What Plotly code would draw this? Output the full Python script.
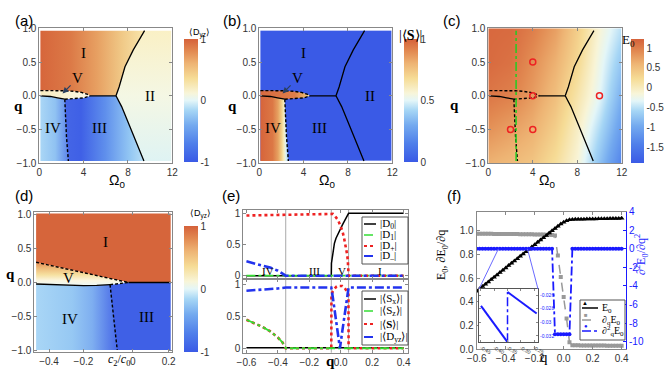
import plotly.graph_objects as go

W, H = 664, 380
SANS = "Liberation Sans"
SERIF = "Liberation Serif"

# ---------- panels (a)-(c): phase boundaries in the (Omega_0, q) plane
om_I_II = [6.92, 7.2, 7.73, 8.48, 9.5]
q_I_II = [0.0, 0.13, 0.43, 0.68, 0.965]
om_III_II = [6.92, 7.43, 8.18, 9.44]
q_III_II = [0.0, -0.16, -0.46, -0.965]
om_I_III = [4.6, 6.92]
q_I_III = [0.0, 0.0]
om_IV_V = [0.1, 1.0, 1.65, 2.1, 2.3]
q_IV_V = [0.0, -0.01, -0.03, -0.05, -0.05]
om_V_up = [0.1, 1.5, 2.4, 3.2, 3.8, 4.3, 4.6]
q_V_up = [0.077, 0.077, 0.075, 0.065, 0.05, 0.025, 0.0]
om_V_low = [2.3, 3.15, 4.05, 4.6]
q_V_low = [-0.05, -0.045, -0.03, 0.0]
om_IV_III = [2.3, 2.35, 2.45, 2.62]
q_IV_III = [-0.05, -0.3, -0.6, -0.965]
om_edge = [0.1, 11.9]
q_edge = [-0.965, 0.965]

# panel (c): ground state energy E0 on a coarse grid
om_c = [0.1, 2, 4, 6, 8, 10, 11.9]
q_c = [-0.965, -0.5, 0, 0.5, 0.965]
E0_c = [
    [0.62, 0.55, 0.45, 0.20, -0.15, -0.75, -1.34],
    [0.85, 0.75, 0.62, 0.35, -0.05, -0.55, -1.10],
    [1.05, 0.98, 0.78, 0.50, 0.10, -0.33, -0.90],
    [1.15, 1.10, 0.88, 0.62, 0.26, -0.25, -0.70],
    [1.17, 1.15, 1.00, 0.75, 0.35, -0.15, -0.50],
]
om_green = [2.5, 2.5]
q_green = [-0.965, 0.965]
om_pts = [4, 4, 4, 2, 10]
q_pts = [0.5, 0, -0.5, -0.5, 0]

# ---------- panel (d): boundaries in the (c2/c0, q) plane
c2_V_up = [-0.537, -0.024]
qd_V_up = [0.296, 0.0]
c2_IV_V = [-0.537, -0.404, -0.274, -0.2, -0.126]
qd_IV_V = [-0.022, -0.037, -0.046, -0.043, -0.032]
c2_V_low = [-0.126, -0.024]
qd_V_low = [-0.032, 0.0]
c2_I_III = [-0.024, 0.211]
qd_I_III = [0.0, 0.0]
c2_IV_III = [-0.126, -0.086]
qd_IV_III = [-0.032, -0.99]
c2_edge = [-0.537, 0.211]
qd_edge = [-0.99, 1.01]
c2_tickvals = [-0.465, -0.274, 0, 0.2]
c2_ticktext = ["\u22120.4", "\u22120.2", "0", "0.2"]

# ---------- panel (e): populations and magnetisations versus q
q_D0 = [-0.6, -0.06, -0.059, -0.05, -0.04, -0.03, -0.02, -0.01, 0, 0.01, 0.02, 0.03, 0.04, 0.05, 0.4]
D0 = [0, 0, 0.2, 0.4, 0.52, 0.6, 0.66, 0.71, 0.76, 0.81, 0.86, 0.91, 0.96, 1.0, 1.0]
q_D1 = [-0.6, 0.4]
D1 = [0, 0]
q_Dp = [-0.6, -0.3, -0.06, -0.05, -0.04, -0.03, -0.02, -0.01, 0, 0.01, 0.02, 0.03, 0.04, 0.045, 0.05, 0.4]
Dp = [0.965, 0.985, 1.0, 0.99, 0.97, 0.94, 0.9, 0.85, 0.79, 0.72, 0.62, 0.5, 0.35, 0.25, 0, 0]
q_Dm = [-0.6, -0.55, -0.5, -0.45, -0.4, -0.37, -0.35, 0.4]
Dm = [0.23, 0.2, 0.17, 0.13, 0.08, 0.04, 0, 0]
q_Sx = [-0.6, 0.4]
Sx = [0.01, 0.01]
q_Sz = [-0.6, -0.55, -0.5, -0.45, -0.4, -0.37, -0.35, 0.4]
Sz = [0.45, 0.4, 0.34, 0.27, 0.17, 0.09, 0, 0]
q_S = [-0.6, -0.55, -0.5, -0.45, -0.4, -0.37, -0.35, -0.06, -0.059, -0.05, -0.04, -0.03,
       -0.02, -0.005, 0.01, 0.02, 0.03, 0.04, 0.049, 0.05, 0.4]
S = [0.45, 0.4, 0.34, 0.27, 0.17, 0.09, 0, 0, 0.85, 0.9, 0.94, 0.97,
     0.985, 0.99, 0.985, 0.97, 0.94, 0.9, 0.85, 0, 0]
q_Dyz = [-0.6, -0.5, -0.4, -0.35, -0.06, -0.05, -0.04, -0.03, -0.02, -0.005, 0.01, 0.02, 0.03, 0.04,
         0.05, 0.4]
Dyz = [0.91, 0.925, 0.945, 0.96, 0.96, 0.8, 0.62, 0.45, 0.27, 0.0, 0.27, 0.45, 0.62, 0.8, 0.96, 0.96]
q_vlines = [-0.35, -0.06, 0.05]
phase_names = ["IV", "III", "V", "I"]
phase_q = [-0.465, -0.17, 0.01, 0.25]

# ---------- panel (f): E0 and its derivatives
q_f = [-0.6, -0.58, -0.56, -0.54, -0.52, -0.5, -0.48, -0.46, -0.44, -0.42, -0.4,
       -0.38, -0.36, -0.34, -0.32, -0.3, -0.28, -0.26, -0.24, -0.22, -0.2,
       -0.18, -0.16, -0.14, -0.12, -0.1, -0.08, -0.06, -0.04, -0.02, 0.0,
       0.02, 0.04, 0.06, 0.08, 0.1, 0.12, 0.14, 0.16, 0.18, 0.2,
       0.22, 0.24, 0.26, 0.28, 0.3, 0.32, 0.34, 0.36, 0.38, 0.4]
E0 = [0.490, 0.510, 0.529, 0.549, 0.568, 0.588, 0.608, 0.627, 0.647, 0.666, 0.686,
      0.706, 0.725, 0.745, 0.764, 0.784, 0.804, 0.823, 0.843, 0.862, 0.882,
      0.902, 0.921, 0.941, 0.960, 0.980, 1.000, 1.019, 1.038, 1.056, 1.072,
      1.084, 1.092, 1.095, 1.096, 1.096, 1.097, 1.097, 1.098, 1.098, 1.099,
      1.099, 1.100, 1.100, 1.101, 1.101, 1.102, 1.102, 1.103, 1.103, 1.104]
dE0 = [0.975, 0.975, 0.975, 0.974, 0.974, 0.974, 0.973, 0.973, 0.973, 0.972, 0.972,
       0.972, 0.971, 0.971, 0.971, 0.970, 0.970, 0.970, 0.969, 0.969, 0.968,
       0.968, 0.967, 0.967, 0.966, 0.965, 0.963, 0.96, 0.79, 0.61, 0.44,
       0.26, 0.06, 0.035, 0.034, 0.034, 0.033, 0.033, 0.033, 0.032, 0.032,
       0.032, 0.031, 0.031, 0.031, 0.030, 0.030, 0.030, 0.030, 0.029, 0.029]
d2E0 = [0, 0, 0, 0, 0, 0, 0, 0, 0, 0, 0,
        0, 0, 0, 0, 0, 0, 0, 0, 0, 0,
        0, 0, 0, 0, 0, 0, -9.2, -9.2, -9.2, -9.2,
        -9.2, -9.2, 0, 0, 0, 0, 0, 0, 0, 0,
        0, 0, 0, 0, 0, 0, 0, 0, 0, 0]
# inset: zoom into d2E0 around the IV/III transition
q_in1 = [-0.45, -0.35]
d2_in1 = [-0.0276, -0.0329]
q_in2 = [-0.35, -0.24]
d2_in2 = [-0.02556, -0.0287]
q_jump = [-0.35, -0.35]
d2_jump = [-0.0329, -0.02556]
q_zoom = [-0.45, -0.25]

cs = [[0.0, "#3a5ae6"], [0.15, "#4f7fea"], [0.3, "#74aaef"], [0.42, "#a6d6f5"],
      [0.5, "#e4f6f8"], [0.56, "#f8f5d8"], [0.68, "#f6dc96"], [0.8, "#eeb474"],
      [0.9, "#e28a52"], [1.0, "#d5613a"]]


def fx(x):
    return x / W


def fy(y):
    return 1 - y / H


def dom(a, b, vert=False):
    if vert:
        return [fy(b), fy(a)]
    return [fx(a), fx(b)]


def grad(kind, start, stop, stops):
    return dict(type=kind, start=start, stop=stop, colorscale=stops)


def cbar(xp, ytop, length, vals, texts, thick=14):
    return dict(x=fx(xp), xanchor="left", y=fy(ytop), yanchor="top", len=length, lenmode="pixels",
                thickness=thick, xpad=0, ypad=0, outlinewidth=0, tickvals=vals, ticktext=texts,
                ticks="", tickfont=dict(family=SANS, size=10, color="#333"))


fig = go.Figure()


def region(xs, ys, ax, fill=None, color=None):
    xa, ya = ax
    t = go.Scatter(x=xs, y=ys, xaxis=xa, yaxis=ya, mode="lines", line=dict(width=0),
                   fill="toself", hoverinfo="skip", showlegend=False)
    if fill is not None:
        t.fillgradient = fill
    else:
        t.fillcolor = color
    fig.add_trace(t)


def line(xs, ys, ax, dash="solid", width=1.3, color="black"):
    xa, ya = ax
    fig.add_trace(go.Scatter(x=xs, y=ys, xaxis=xa, yaxis=ya, mode="lines",
                             line=dict(color=color, width=width, dash=dash),
                             hoverinfo="skip", showlegend=False))


def boundaries(ax):
    line(om_I_II, q_I_II, ax)
    line(om_III_II, q_III_II, ax)
    line(om_I_III, q_I_III, ax)
    line(om_IV_V, q_IV_V, ax)
    line(om_V_up, q_V_up, ax, dash="3px,2px", width=1.4)
    line(om_V_low, q_V_low, ax, dash="3px,2px", width=1.4)
    line(om_IV_III, q_IV_III, ax, dash="3px,2px", width=1.4)


def rev(a):
    return list(reversed(a))


x0, x1 = om_edge
y0, y1 = q_edge

poly_I = ([x0, om_I_II[-1]] + rev(om_I_II) + rev(om_I_III) + rev(om_V_up),
          [y1, y1] + rev(q_I_II) + rev(q_I_III) + rev(q_V_up))
poly_II = ([om_I_II[-1], x1, x1, om_III_II[-1]] + rev(om_III_II) + om_I_II,
           [y1, y1, y0, y0] + rev(q_III_II) + q_I_II)
poly_III = (om_V_low + om_I_III + om_III_II + [om_IV_III[-1]] + rev(om_IV_III),
            q_V_low + q_I_III + q_III_II + [y0] + rev(q_IV_III))
poly_IV = (om_IV_V + [3.2, 3.2, x0], q_IV_V + [q_IV_V[-1], y0, y0])
poly_IVb = (om_IV_V + om_IV_III + [x0], q_IV_V + q_IV_III + [y0])
poly_V = (om_V_up + rev(om_V_low) + rev(om_IV_V), q_V_up + rev(q_V_low) + rev(q_IV_V))

# ----- (a)
A = ("x", "y")
region(*poly_I, A, grad("horizontal", 0, 9.5, [[0, "#d6653b"], [0.3, "#dc7a47"], [0.55, "#e7a062"],
                                              [0.78, "#f0c886"], [1, "#f8e6ac"]]))
region(*poly_II, A, grad("vertical", -1, 1, [[0, "#def3f4"], [0.5, "#f4f7e4"], [1, "#faf0c4"]]))
region(*poly_IV, A, grad("horizontal", 0, 3.2, [[0, "#acd8f6"], [0.45, "#90c2f2"], [0.75, "#6690ec"],
                                                [1, "#4564e6"]]))
region(*poly_III, A, grad("horizontal", 2.3, 9.6, [[0, "#4566e6"], [0.2, "#3f60e6"], [0.5, "#5f8fec"],
                                                   [0.8, "#92c6f3"], [1, "#bde2f6"]]))
region(*poly_V, A, grad("horizontal", 0, 4.6, [[0, "#f7ecc0"], [1, "#fbf7e4"]]))
boundaries(A)
fig.add_trace(go.Heatmap(z=[[-1, 1]], x=[50, 51, 52], y=[50, 51], xaxis="x", yaxis="y",
                         colorscale=cs, zmin=-1, zmax=1, hoverinfo="skip",
                         colorbar=cbar(184, 39, 123, [-1, 0, 1], ["-1", "0", "1"])))

# ----- (b)
B = ("x2", "y2")
fig.add_trace(go.Heatmap(z=[[0]], x=om_edge, y=q_edge, xaxis="x2", yaxis="y2", colorscale=cs,
                         zmin=0, zmax=1, hoverinfo="skip",
                         colorbar=cbar(404, 39, 123, [0, 0.5, 1], ["0", "0.5", "1"])))
region(*poly_IVb, B, grad("horizontal", 0, 2.8, [[0, "#d6623a"], [0.43, "#dc7845"], [0.6, "#e6a060"],
                                                [0.71, "#f0cc85"], [0.79, "#f6ecbc"], [0.86, "#dcf2f6"],
                                                [0.93, "#9cc8f2"], [1, "#4a6ce8"]]))
region(*poly_V, B, grad("horizontal", 0, 4.6, [[0, "#d86a40"], [0.7, "#de7e49"], [0.88, "#eab068"],
                                              [1, "#f5e2a0"]]))
boundaries(B)

# ----- (c)
C = ("x3", "y3")
fig.add_trace(go.Heatmap(z=E0_c, x=om_c, y=q_c, xaxis="x3", yaxis="y3", colorscale=cs,
                         zmin=-1.9, zmax=1.23, zsmooth="best", hoverinfo="skip",
                         colorbar=cbar(631, 39, 124, [1, 0.5, 0, -0.5, -1, -1.5],
                                       ["1", "0.5", "0", "-0.5", "-1", "-1.5"], thick=13)))
boundaries(C)
line(om_green, q_green, C, dash="dashdot", width=1.5, color="#22cc22")
fig.add_trace(go.Scatter(x=om_pts, y=q_pts, xaxis="x3", yaxis="y3", mode="markers",
                         marker=dict(symbol="circle-open", size=6, color="#ee2222", line=dict(width=1.5)),
                         hoverinfo="skip", showlegend=False))

# ----- (d)
D = ("x4", "y4")
d0, d1 = c2_edge
e0, e1 = qd_edge
region([d0, d1, d1] + rev(c2_I_III) + rev(c2_V_up), [e1, e1, 0] + rev(qd_I_III) + rev(qd_V_up), D,
       color="#d6653b")
region(c2_IV_V + [-0.05, -0.05, d0], qd_IV_V + [qd_IV_V[-1], e0, e0], D,
       grad("horizontal", d0, -0.09, [[0, "#a9d6f6"], [0.45, "#96c8f3"], [0.7, "#7eaef0"],
                                      [0.9, "#5a80ea"], [1, "#4a6ce8"]]))
region(c2_V_low + c2_I_III + [d1, c2_IV_III[-1]] + rev(c2_IV_III),
       qd_V_low + qd_I_III + [e0, e0] + rev(qd_IV_III), D, color="#3f60e6")
region(c2_V_up + rev(c2_V_low) + rev(c2_IV_V), qd_V_up + rev(qd_V_low) + rev(qd_IV_V), D,
       grad("vertical", -0.04, 0.3, [[0, "#eef8f4"], [0.2, "#fbf6e0"], [0.45, "#f6e0a0"],
                                     [0.75, "#eeb877"], [1, "#e38b53"]]))
line(c2_V_up, qd_V_up, D, dash="3px,2px", width=1.4)
line(c2_V_low, qd_V_low, D, dash="3px,2px", width=1.4)
line(c2_IV_III, qd_IV_III, D, dash="3px,2px", width=1.4)
line(c2_IV_V, qd_IV_V, D)
line(c2_I_III, qd_I_III, D)
fig.add_trace(go.Heatmap(z=[[-1, 1]], x=[50, 51, 52], y=[50, 51], xaxis="x4", yaxis="y4",
                         colorscale=cs, zmin=-1, zmax=1, hoverinfo="skip",
                         colorbar=cbar(184, 226, 126, [-1, 0, 1], ["-1", "0", "1"])))

# ----- (e)
RED, GREEN, EBLUE = "#ee2222", "#33dd33", "#2233ee"
E1, E2 = ("x5", "y5"), ("x6", "y6")
line(q_D0, D0, E1, width=1.5)
line(q_D1, D1, E1, dash="dashdot", width=1.8, color=GREEN)
line(q_Dp, Dp, E1, dash="dot", width=2.6, color=RED)
line(q_Dm, Dm, E1, dash="dashdot", width=2.6, color=EBLUE)
line(q_Sx, Sx, E2, width=1.5)
line(q_S, S, E2, dash="dot", width=2.6, color=RED)
line(q_Sz, Sz, E2, dash="dashdot", width=1.8, color=GREEN)
line(q_Dyz, Dyz, E2, dash="dashdot", width=2.6, color=EBLUE)

# ----- (f)
FBLUE = "#1a1aff"
fig.add_trace(go.Scatter(x=q_f, y=dE0, xaxis="x7", yaxis="y7", mode="lines+markers",
                         line=dict(color="#999", width=1.5, dash="dash"),
                         marker=dict(symbol="square", size=4, color="#999"), showlegend=False))
fig.add_trace(go.Scatter(x=q_f, y=E0, xaxis="x7", yaxis="y7", mode="lines+markers",
                         line=dict(color="black", width=1.5),
                         marker=dict(symbol="triangle-up", size=5, color="black"), showlegend=False))
fig.add_trace(go.Scatter(x=q_f, y=d2E0, xaxis="x7", yaxis="y8", mode="lines+markers",
                         line=dict(color=FBLUE, width=1.8, dash="dashdot"),
                         marker=dict(symbol="circle", size=4, color=FBLUE), showlegend=False))
line(q_in1, d2_in1, ("x8", "y9"), width=2, color=FBLUE)
line(q_in2, d2_in2, ("x8", "y9"), width=2, color=FBLUE)
line(q_jump, d2_jump, ("x8", "y9"), dash="dashdot", width=1.5, color=FBLUE)

# ---------- axes
tickfont = dict(family=SANS, size=10, color="#333")


def axis(rng, d, tv, tt, anchor, labels=True, **kw):
    a = dict(range=rng, domain=d, tickvals=tv, ticktext=tt, anchor=anchor, showline=True,
             mirror="ticks", linecolor="#888", linewidth=1, ticks="inside", ticklen=3,
             tickcolor="#888", showgrid=False, zeroline=False, tickfont=tickfont,
             showticklabels=labels, fixedrange=True, automargin=False)
    a.update(kw)
    return a


om_ticks = [0, 4, 8, 12]
q_ticks = [-1, -0.5, 0, 0.5, 1]
q_text = ["\u22121.0", "\u22120.5", "0.0", "0.5", "1.0"]
top_y = dom(28.3, 163.3, True)
eq_ticks = [-0.6, -0.4, -0.2, 0, 0.2, 0.4]
eq_text = ["\u22120.6", "\u22120.4", "\u22120.2", "0.0", "0.2", "0.4"]

lay = dict(
    xaxis=axis([0, 12], dom(39.3, 172.3), om_ticks, ["0", "4", "8", "12"], "y"),
    yaxis=axis([-1, 1], top_y, q_ticks, q_text, "x"),
    xaxis2=axis([0, 12], dom(259.3, 392.3), om_ticks, ["0", "4", "8", "12"], "y2"),
    yaxis2=axis([-1, 1], top_y, q_ticks, q_text, "x2"),
    xaxis3=axis([0, 12], dom(488.3, 621.7), om_ticks, ["0", "4", "8", "12"], "y3"),
    yaxis3=axis([-1, 1], top_y, q_ticks, q_text, "x3"),
    xaxis4=axis([-0.547, 0.22], dom(34.3, 172.3), c2_tickvals, c2_ticktext, "y4"),
    yaxis4=axis([-1.015, 1.038], dom(211.7, 351.7, True), q_ticks, q_text, "x4"),
    xaxis5=axis([-0.62, 0.43], dom(243.3, 408.3), eq_ticks, None, "y5", labels=False),
    yaxis5=axis([-0.058, 1.053], dom(210, 279.3, True), [0, 0.5, 1], ["0", "0.5", "1"], "x5"),
    xaxis6=axis([-0.62, 0.43], dom(243.3, 408.3), eq_ticks, eq_text, "y6"),
    yaxis6=axis([-0.07, 1.09], dom(279.3, 352.7, True), [0, 0.5, 1], ["0", "0.5", "1"], "x6"),
    xaxis7=axis([-0.6, 0.43], dom(476.7, 626), eq_ticks, eq_text, "y7"),
    yaxis7=axis([0, 1.16], dom(211.7, 349.3, True), [0, 0.2, 0.4, 0.6, 0.8, 1.0],
                ["0.0", "0.2", "0.4", "0.6", "0.8", "1.0"], "x7", mirror=False),
    yaxis8=axis([-10.83, 4], dom(211.7, 349.3, True), [-10, -8, -6, -4, -2, 0, 2, 4],
                ["-10", "-8", "-6", "-4", "-2", "0", "2", "4"], "x7", overlaying="y7",
                side="right", mirror=False, linecolor=FBLUE, tickcolor=FBLUE,
                tickfont=dict(family=SANS, size=10, color=FBLUE)),
    xaxis8=axis([-0.4575, -0.235], dom(479, 538), [-0.45, -0.4, -0.35, -0.3, -0.25],
                ["-0.45", "-0.40", "-0.35", "-0.30", "-0.25"], "y9",
                tickfont=dict(family=SANS, size=5, color="#333"), linecolor="#555", ticklen=2),
    yaxis9=axis([-0.03288, -0.02512], dom(289, 342, True), [-0.032, -0.03, -0.028, -0.026],
                ["-0.032", "-0.03", "-0.028", "-0.026"], "x8", side="right",
                tickfont=dict(family=SANS, size=5, color=FBLUE), linecolor="#555", ticklen=2),
)


def to_paper(v, rng, d):
    return d[0] + (v - rng[0]) / (rng[1] - rng[0]) * (d[1] - d[0])


shapes = []
ann = []


def text(x, y, s, size=10, family=SANS, color="black", xref="paper", yref="paper", **kw):
    a = dict(x=x, y=y, text=s, showarrow=False, xref=xref, yref=yref,
             font=dict(family=family, size=size, color=color))
    a.update(kw)
    ann.append(a)


# panel letters
for lbl, xp, yp in [("(a)", 13, 10), ("(b)", 232, 10), ("(c)", 463, 10),
                    ("(d)", 13, 195), ("(e)", 231, 195), ("(f)", 463, 195)]:
    text(fx(xp), fy(yp), lbl, size=15)

# axis titles
for xp, yp in [(12, 96), (232, 96), (461, 95), (4, 284)]:
    text(fx(xp), fy(yp), "<b>q</b>", size=15, family=SERIF)
for xp in [107, 327, 557]:
    text(fx(xp), fy(181), "\u03a9<sub>0</sub>", size=14, family=SANS)
text(fx(106), fy(370), "<i>c</i><sub>2</sub>/<i>c</i><sub>0</sub>", size=12, family=SERIF)
text(fx(330), fy(371), "<b>q</b>", size=15, family=SERIF)
text(fx(550), fy(367), "q", size=15, family=SERIF)
text(fx(442), fy(282), "E<sub>0</sub>, \u2202E<sub>0</sub>/\u2202q", size=12, family=SERIF, textangle=-90)
text(fx(652), fy(277), "\u2202<sup>2</sup>E<sub>0</sub>/\u2202q<sup>2</sup>", size=12, family=SERIF,
     color=FBLUE, textangle=-90)

# colorbar titles
text(fx(187), fy(25), "\u27e8D<sub>yz</sub>\u27e9", size=9)
text(fx(188), fy(214), "\u27e8D<sub>yz</sub>\u27e9", size=9)
text(fx(410), fy(26), "|\u27e8<b>S</b>\u27e9|", size=14, family=SERIF)
text(fx(637), fy(30), "E<sub>0</sub>", size=13, family=SERIF)

# phase labels
for xa, ya in [("x", "y"), ("x2", "y2")]:
    for s, xv, yv in [("I", 4, 0.63), ("II", 10, 0), ("III", 5.4, -0.48), ("IV", 1.26, -0.48)]:
        text(xv, yv, s, size=15, family=SERIF, xref=xa, yref=ya)
    ann.append(dict(x=2.1, y=0.035, xref=xa, yref=ya, ax=15, ay=-15, axref="pixel", ayref="pixel",
                    text="V", showarrow=True, arrowhead=2, arrowsize=1, arrowwidth=1.2,
                    font=dict(family=SERIF, size=15, color="black")))
for s, xv, yv in [("I", -0.154, 0.6), ("V", -0.358, 0.07), ("IV", -0.348, -0.53), ("III", 0.078, -0.5)]:
    text(xv, yv, s, size=15, family=SERIF, xref="x4", yref="y4")
for s, xv in zip(phase_names, phase_q):
    text(xv, 0.08, s, size=11, family=SERIF, xref="x5", yref="y5")

# vertical guide lines in (e)
for xv in q_vlines:
    for xa, ya in [("x5", "y5"), ("x6", "y6")]:
        shapes.append(dict(type="line", xref=xa, yref=ya + " domain", x0=xv, x1=xv, y0=0, y1=1,
                           line=dict(color="#aaa", width=1), layer="below"))


def legend(box, rows, sample, txt_x, size=11):
    bx0, by0, bx1, by1 = box
    shapes.append(dict(type="rect", xref="paper", yref="paper", x0=fx(bx0), x1=fx(bx1),
                       y0=fy(by1), y1=fy(by0), fillcolor="white", line=dict(color="#555", width=1)))
    for yy, color, dash, width, label, sym in rows:
        shapes.append(dict(type="line", xref="paper", yref="paper", x0=fx(sample[0]), x1=fx(sample[1]),
                           y0=fy(yy), y1=fy(yy), line=dict(color=color, dash=dash, width=width)))
        if sym:
            text(fx((sample[0] + sample[1]) / 2), fy(yy), sym, size=6, color=color)
        text(fx(txt_x), fy(yy), label, size=size, family=SERIF, xanchor="left", yanchor="middle")


legend((362, 217, 408, 264),
       [(224, "black", "solid", 1.5, "|D<sub>0</sub>|", None),
        (235, GREEN, "dashdot", 1.5, "|D<sub>1</sub>|", None),
        (246, RED, "dot", 2, "|D<sub>+</sub>|", None),
        (256, EBLUE, "dashdot", 2, "|D<sub>\u2013</sub>|", None)],
       (364, 376), 378)
legend((362, 291, 408, 345),
       [(299, "black", "solid", 1.5, "|\u27e8S<sub>x</sub>\u27e9|", None),
        (311, GREEN, "dashdot", 1.5, "|\u27e8S<sub>z</sub>\u27e9|", None),
        (324, RED, "dot", 2, "|\u27e8<b>S</b>\u27e9|", None),
        (337, EBLUE, "dashdot", 2, "|\u27e8D<sub>yz</sub>\u27e9|", None)],
       (364, 376), 378)
legend((580, 300, 625, 340),
       [(308, "black", "solid", 1.5, "E<sub>0</sub>", "\u25b2"),
        (320, "#999", "dash", 1.5, "\u2202<sub>q</sub>E<sub>0</sub>", "\u25a0"),
        (331, FBLUE, "dashdot", 1.5, "\u2202<sup>2</sup><sub>q</sub>E<sub>0</sub>", "\u25cf")],
       (582, 598), 600, size=10)

# inset connectors
fxr, fyr = lay["xaxis7"]["range"], lay["yaxis8"]["range"]
fxd, fyd = lay["xaxis7"]["domain"], lay["yaxis8"]["domain"]
ixd, iyd = lay["xaxis8"]["domain"], lay["yaxis9"]["domain"]
for qv, corner in zip(q_zoom, [ixd[0], ixd[1]]):
    shapes.append(dict(type="line", xref="paper", yref="paper",
                       x0=to_paper(qv, fxr, fxd), y0=to_paper(0, fyr, fyd),
                       x1=corner, y1=iyd[1], line=dict(color="#6a6aff", width=1)))

fig.update_layout(**lay)
fig.update_layout(width=W, height=H, margin=dict(l=0, r=0, t=0, b=0, autoexpand=False),
                  plot_bgcolor="white", paper_bgcolor="white", showlegend=False,
                  shapes=shapes, annotations=ann)
fig.write_html("out.html", config={"displayModeBar": False},
               post_script="document.body.style.margin='0';")
